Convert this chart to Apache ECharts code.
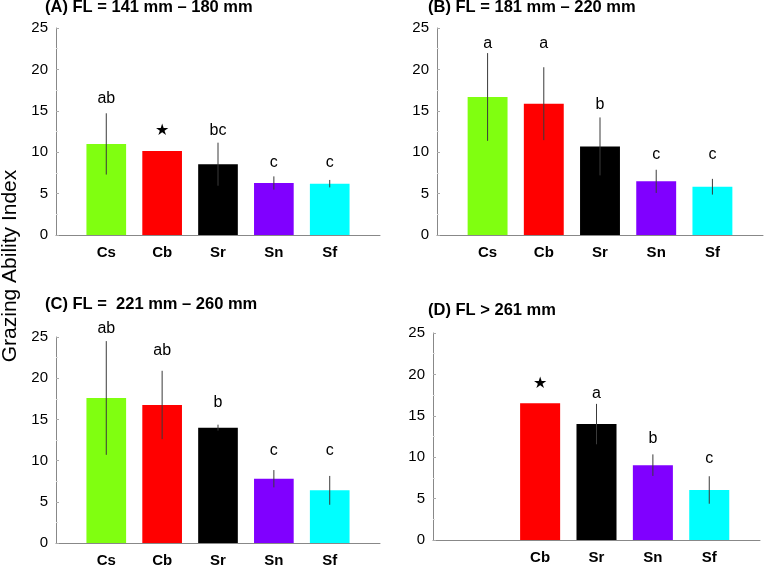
<!DOCTYPE html>
<html>
<head>
<meta charset="utf-8">
<script src="https://cdn.jsdelivr.net/npm/echarts@6/dist/echarts.min.js"></script>
<style>
html,body{margin:0;padding:0;background:#fff;}
#chart{width:766px;height:568px;}
</style>
</head>
<body>
<div id="chart"></div>
<script>
// ---- data ----
const categories = ['Cs', 'Cb', 'Sr', 'Sn', 'Sf'];
const yTicks = [0, 5, 10, 15, 20, 25];

const titles = ['(A) FL = 141 mm \u2013 180 mm', '(B) FL = 181 mm \u2013 220 mm', '(C) FL =  221 mm \u2013 260 mm', '(D) FL > 261 mm'];

const meanA = [11.0, 10.15, 8.55, 6.28, 6.2];
const errA = [3.7, 0, 2.6, 0.8, 0.45];
const letterA = ['ab', '\u2605', 'bc', 'c', 'c'];
const letterPosA = [16.5, 12.6, 12.6, 8.8, 8.8];

const meanB = [16.67, 15.86, 10.7, 6.48, 5.83];
const errB = [5.3, 4.4, 3.5, 1.4, 0.95];
const letterB = ['a', 'a', 'b', 'c', 'c'];
const letterPosB = [23.15, 23.15, 15.8, 9.66, 9.66];

const meanC = [17.6, 16.75, 14.0, 7.8, 6.39];
const errC = [6.9, 4.15, 0.36, 1.05, 1.75];
const letterC = ['ab', 'ab', 'b', 'c', 'c'];
const letterPosC = [26.0, 23.3, 17.0, 11.25, 11.25];

const meanD = [null, 16.52, 14.0, 9.04, 6.04];
const errD = [0, 0, 2.44, 1.3, 1.66];
const letterD = ['', '\u2605', 'a', 'b', 'c'];
const letterPosD = [null, 18.84, 17.7, 12.24, 9.84];

const yAxisTitle = 'Grazing Ability Index';

// ---- styles ----
const barColors = ['#80ff10', '#ff0000', '#000000', '#8000ff', '#00ffff'];
const grids = [
  {left: 56, top: 28, width: 324, height: 207},
  {left: 437, top: 28, width: 326, height: 207},
  {left: 56, top: 337, width: 324, height: 206},
  {left: 433, top: 333, width: 327, height: 207}
];
const titlePos = [[45, 8], [428, 8], [45, 305], [428, 311]];
const panels = [
  {mean: meanA, err: errA, letters: letterA, pos: letterPosA},
  {mean: meanB, err: errB, letters: letterB, pos: letterPosB},
  {mean: meanC, err: errC, letters: letterC, pos: letterPosC},
  {mean: meanD, err: errD, letters: letterD, pos: letterPosD}
];
const HALF = 0.355;
const FONT = 'Liberation Sans, Arial, Helvetica, sans-serif';

const xAxes = [], yAxes = [], series = [], graphics = [];

panels.forEach(function (p, g) {
  xAxes.push({
    type: 'value', gridIndex: g, min: 0.1, max: 5.9,
    axisLine: {show: true, onZero: false, lineStyle: {color: '#888', width: 1}},
    axisTick: {show: false},
    splitLine: {show: false},
    axisLabel: {
      customValues: [1, 2, 3, 4, 5],
      margin: 10,
      fontSize: 15, fontWeight: 'bold', color: '#000', fontFamily: FONT,
      formatter: function (v) {
        const i = Math.round(v) - 1;
        return p.mean[i] == null ? '' : categories[i];
      }
    }
  });
  yAxes.push({
    type: 'value', gridIndex: g, min: 0, max: 25, interval: 5,
    axisLine: {show: true, lineStyle: {color: '#888', width: 1}},
    axisTick: {show: true, inside: true, length: 3, lineStyle: {color: '#aaa'}},
    minorTick: {show: true, splitNumber: 2, length: 2, lineStyle: {color: '#ddd'}},
    splitLine: {show: false},
    axisLabel: {
      customValues: yTicks,
      margin: 8, fontSize: 15, color: '#000', fontFamily: FONT
    }
  });

  const barData = [], errData = [], labData = [];
  p.mean.forEach(function (m, i) {
    if (m == null) return;
    barData.push([i + 1, m, i]);
    if (p.err[i] > 0) errData.push([i + 1, m, p.err[i]]);
    if (p.letters[i]) labData.push([i + 1, p.pos[i], i]);
  });

  series.push({
    type: 'custom', xAxisIndex: g, yAxisIndex: g, data: barData, z: 2,
    renderItem: function (params, api) {
      const x = api.value(0), v = api.value(1), idx = api.value(2);
      const a = api.coord([x - HALF, v]);
      const b = api.coord([x + HALF, 0]);
      return {type: 'rect', shape: {x: a[0], y: a[1], width: b[0] - a[0], height: b[1] - a[1]},
        style: {fill: barColors[idx]}};
    }
  });
  series.push({
    type: 'custom', xAxisIndex: g, yAxisIndex: g, data: errData, z: 3,
    renderItem: function (params, api) {
      const x = api.value(0), v = api.value(1), e = api.value(2);
      const a = api.coord([x, v - e]);
      const b = api.coord([x, v + e]);
      return {type: 'line', shape: {x1: a[0], y1: a[1], x2: b[0], y2: b[1]},
        style: {stroke: '#3a3a3a', lineWidth: 1}};
    }
  });
  series.push({
    type: 'custom', xAxisIndex: g, yAxisIndex: g, data: labData, z: 4,
    renderItem: function (params, api) {
      const x = api.value(0), y = api.value(1), idx = api.value(2);
      const c = api.coord([x, y]);
      const t = p.letters[idx];
      const star = t === '\u2605';
      return {type: 'text', x: c[0], y: c[1],
        style: {text: t, align: 'center', verticalAlign: 'middle',
          fontSize: star ? 16 : 16, fontFamily: star ? 'DejaVu Sans' : FONT, fill: '#000'}};
    }
  });

  graphics.push({
    type: 'text', left: titlePos[g][0], top: titlePos[g][1] - 9,
    style: {text: titles[g], fontSize: 16.5, fontWeight: 'bold', fontFamily: FONT, fill: '#000'}
  });
});

graphics.push({
  type: 'text', x: 10, y: 266, rotation: Math.PI / 2,
  style: {text: yAxisTitle, fontSize: 21, fontFamily: FONT, fill: '#000', align: 'center', verticalAlign: 'middle'}
});

const chart = echarts.init(document.getElementById('chart'), null, {renderer: 'canvas'});
chart.setOption({
  animation: false,
  backgroundColor: '#fff',
  grid: grids,
  xAxis: xAxes,
  yAxis: yAxes,
  series: series,
  graphic: graphics
});
</script>
</body>
</html>
